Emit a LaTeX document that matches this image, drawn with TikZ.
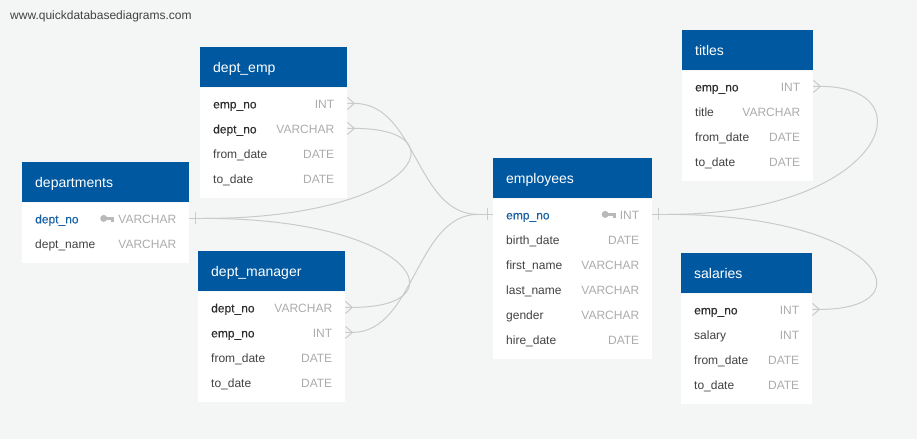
\documentclass[tikz,border=0pt]{standalone}
\usepackage{fontspec}
\setmainfont{Liberation Sans}
\newfontfamily\keyfieldfont[FakeBold=0.4]{Liberation Sans}
\usepackage{xcolor}
\usepackage{tikz}
\usetikzlibrary{
  calc,
  positioning}

\definecolor{qdbblue}{RGB}{0,88,160}
\definecolor{qdbpk}{RGB}{22,96,164}
\definecolor{qdbtext}{RGB}{66,66,66}
\definecolor{qdbfk}{RGB}{45,45,45}
\definecolor{qdbtype}{RGB}{172,172,172}
\definecolor{qdbkey}{RGB}{185,185,185}
\definecolor{qdbline}{RGB}{202,202,202}
\definecolor{qdbback}{RGB}{244,245,245}

\tikzset{
  tablehead/.style={rectangle,fill=qdbblue,text=white,anchor=north west,inner xsep=13pt,inner ysep=0pt,
    minimum height=40pt,text height=11pt,text depth=1pt,font=\fontsize{14}{16}\selectfont},
  tablebody/.style={rectangle,fill=white,inner sep=0pt,below=0pt of #1},
  col/.style={anchor=west,inner sep=0pt,text height=11pt,text depth=1pt,text=qdbtext,font=\fontsize{12}{14}\selectfont},
  fk/.style={col,text=qdbfk,font=\keyfieldfont\fontsize{12}{14}\selectfont},
  pk/.style={col,text=qdbpk,font=\keyfieldfont\fontsize{12}{14}\selectfont},
  coltype/.style={anchor=east,inner sep=0pt,text height=11pt,text depth=1pt,text=qdbtype,font=\fontsize{12}{14}\selectfont},
  link/.style={draw=qdbline,line width=1pt}
}

\begin{document}
\begin{tikzpicture}[x=1pt,y=-1pt]
        \fill[qdbback,use as bounding box] (0,0) rectangle (917,439);
        \node[col] (site) at (10,14) {www.quickdatabasediagrams.com};

        % Tables
        \node[tablehead,text width=141pt] (departments) at (22,162) {departments};
        \node[tablebody=departments,minimum width=167pt,minimum height=60pt] (departments-body) {};
        \foreach \fld/\typ/\sty [count=\i] in {dept\_no/VARCHAR/pk,dept\_name/VARCHAR/col}{
          \node[\sty] (departments-\i) at ($(departments-body.north west)+(13,25*\i-9)$) {\fld};
          \node[coltype] (departments-\i-type) at ($(departments-body.north east)+(-13,25*\i-9)$) {\typ};
        }

        \node[tablehead,text width=121pt] (dept_emp) at (200,47) {dept\_emp};
        \node[tablebody=dept_emp,minimum width=147pt,minimum height=110pt] (dept_emp-body) {};
        \foreach \fld/\typ/\sty [count=\i] in {emp\_no/INT/fk,dept\_no/VARCHAR/fk,from\_date/DATE/col,to\_date/DATE/col}{
          \node[\sty] (dept_emp-\i) at ($(dept_emp-body.north west)+(13,25*\i-9)$) {\fld};
          \node[coltype] (dept_emp-\i-type) at ($(dept_emp-body.north east)+(-13,25*\i-9)$) {\typ};
        }

        \node[tablehead,text width=121pt] (dept_manager) at (198,251) {dept\_manager};
        \node[tablebody=dept_manager,minimum width=147pt,minimum height=110pt] (dept_manager-body) {};
        \foreach \fld/\typ/\sty [count=\i] in {dept\_no/VARCHAR/fk,emp\_no/INT/fk,from\_date/DATE/col,to\_date/DATE/col}{
          \node[\sty] (dept_manager-\i) at ($(dept_manager-body.north west)+(13,25*\i-9)$) {\fld};
          \node[coltype] (dept_manager-\i-type) at ($(dept_manager-body.north east)+(-13,25*\i-9)$) {\typ};
        }

        \node[tablehead,text width=133pt] (employees) at (493,158) {employees};
        \node[tablebody=employees,minimum width=159pt,minimum height=160pt] (employees-body) {};
        \foreach \fld/\typ/\sty [count=\i] in {emp\_no/INT/pk,birth\_date/DATE/col,first\_name/VARCHAR/col,
            last\_name/VARCHAR/col,gender/VARCHAR/col,hire\_date/DATE/col}{
          \node[\sty] (employees-\i) at ($(employees-body.north west)+(13,25*\i-9)$) {\fld};
          \node[coltype] (employees-\i-type) at ($(employees-body.north east)+(-13,25*\i-9)$) {\typ};
        }

        \node[tablehead,text width=105pt] (titles) at (682,30) {titles};
        \node[tablebody=titles,minimum width=131pt,minimum height=110pt] (titles-body) {};
        \foreach \fld/\typ/\sty [count=\i] in {emp\_no/INT/fk,title/VARCHAR/col,from\_date/DATE/col,to\_date/DATE/col}{
          \node[\sty] (titles-\i) at ($(titles-body.north west)+(13,25*\i-9)$) {\fld};
          \node[coltype] (titles-\i-type) at ($(titles-body.north east)+(-13,25*\i-9)$) {\typ};
        }

        \node[tablehead,text width=105pt] (salaries) at (681,253) {salaries};
        \node[tablebody=salaries,minimum width=131pt,minimum height=110pt] (salaries-body) {};
        \foreach \fld/\typ/\sty [count=\i] in {emp\_no/INT/fk,salary/INT/col,from\_date/DATE/col,to\_date/DATE/col}{
          \node[\sty] (salaries-\i) at ($(salaries-body.north west)+(13,25*\i-9)$) {\fld};
          \node[coltype] (salaries-\i-type) at ($(salaries-body.north east)+(-13,25*\i-9)$) {\typ};
        }

        % Primary key icons
        \foreach \tbl in {departments,employees}{
          \begin{scope}[shift={($(\tbl-1-type.west)+(-18,0)$)}]
            \fill[qdbkey] (3.5,0) circle (3.5);
            \fill[qdbkey] (5,-1.5) rectangle (14,1.5);
            \fill[qdbkey] (11,1.5) rectangle (14,4);
          \end{scope}
        }

        % Links (one side)
        \coordinate (dep-r) at (departments-1 -| departments-body.east);
        \coordinate (emp-l) at (employees-1 -| employees-body.west);
        \coordinate (emp-r) at (employees-1 -| employees-body.east);
        \draw[link] (dep-r) -- ++(15,0) coordinate (dep-r-end) ++(-9,-6) -- ++(0,12);
        \draw[link] (emp-l) -- ++(-15,0) coordinate (emp-l-end) ++(9,-6) -- ++(0,12);
        \draw[link] (emp-r) -- ++(15,0) coordinate (emp-r-end) ++(-9,-6) -- ++(0,12);

        % Links (many side)
        \draw[link] (dept_emp-1 -| dept_emp-body.east) ++(0,-6) -- ++(7,6) -- ++(-7,6) ++(0,-6) -- ++(7,0)
          .. controls +(62,0) and +(-62,0) .. (emp-l-end);
        \draw[link] (dept_emp-2 -| dept_emp-body.east) ++(0,-6) -- ++(7,6) -- ++(-7,6) ++(0,-6) -- ++(7,0)
          .. controls +(110,0) and +(210,0) .. (dep-r-end);
        \draw[link] (dept_manager-1 -| dept_manager-body.east) ++(0,-6) -- ++(7,6) -- ++(-7,6) ++(0,-6) -- ++(7,0)
          .. controls +(110,0) and +(210,0) .. (dep-r-end);
        \draw[link] (dept_manager-2 -| dept_manager-body.east) ++(0,-6) -- ++(7,6) -- ++(-7,6) ++(0,-6) -- ++(7,0)
          .. controls +(62,0) and +(-62,0) .. (emp-l-end);
        \draw[link] (titles-1 -| titles-body.east) ++(0,-6) -- ++(7,6) -- ++(-7,6) ++(0,-6) -- ++(7,0)
          .. controls +(110,0) and +(215,0) .. (emp-r-end);
        \draw[link] (salaries-1 -| salaries-body.east) ++(0,-6) -- ++(7,6) -- ++(-7,6) ++(0,-6) -- ++(7,0)
          .. controls +(110,0) and +(215,0) .. (emp-r-end);
\end{tikzpicture}
\end{document}
